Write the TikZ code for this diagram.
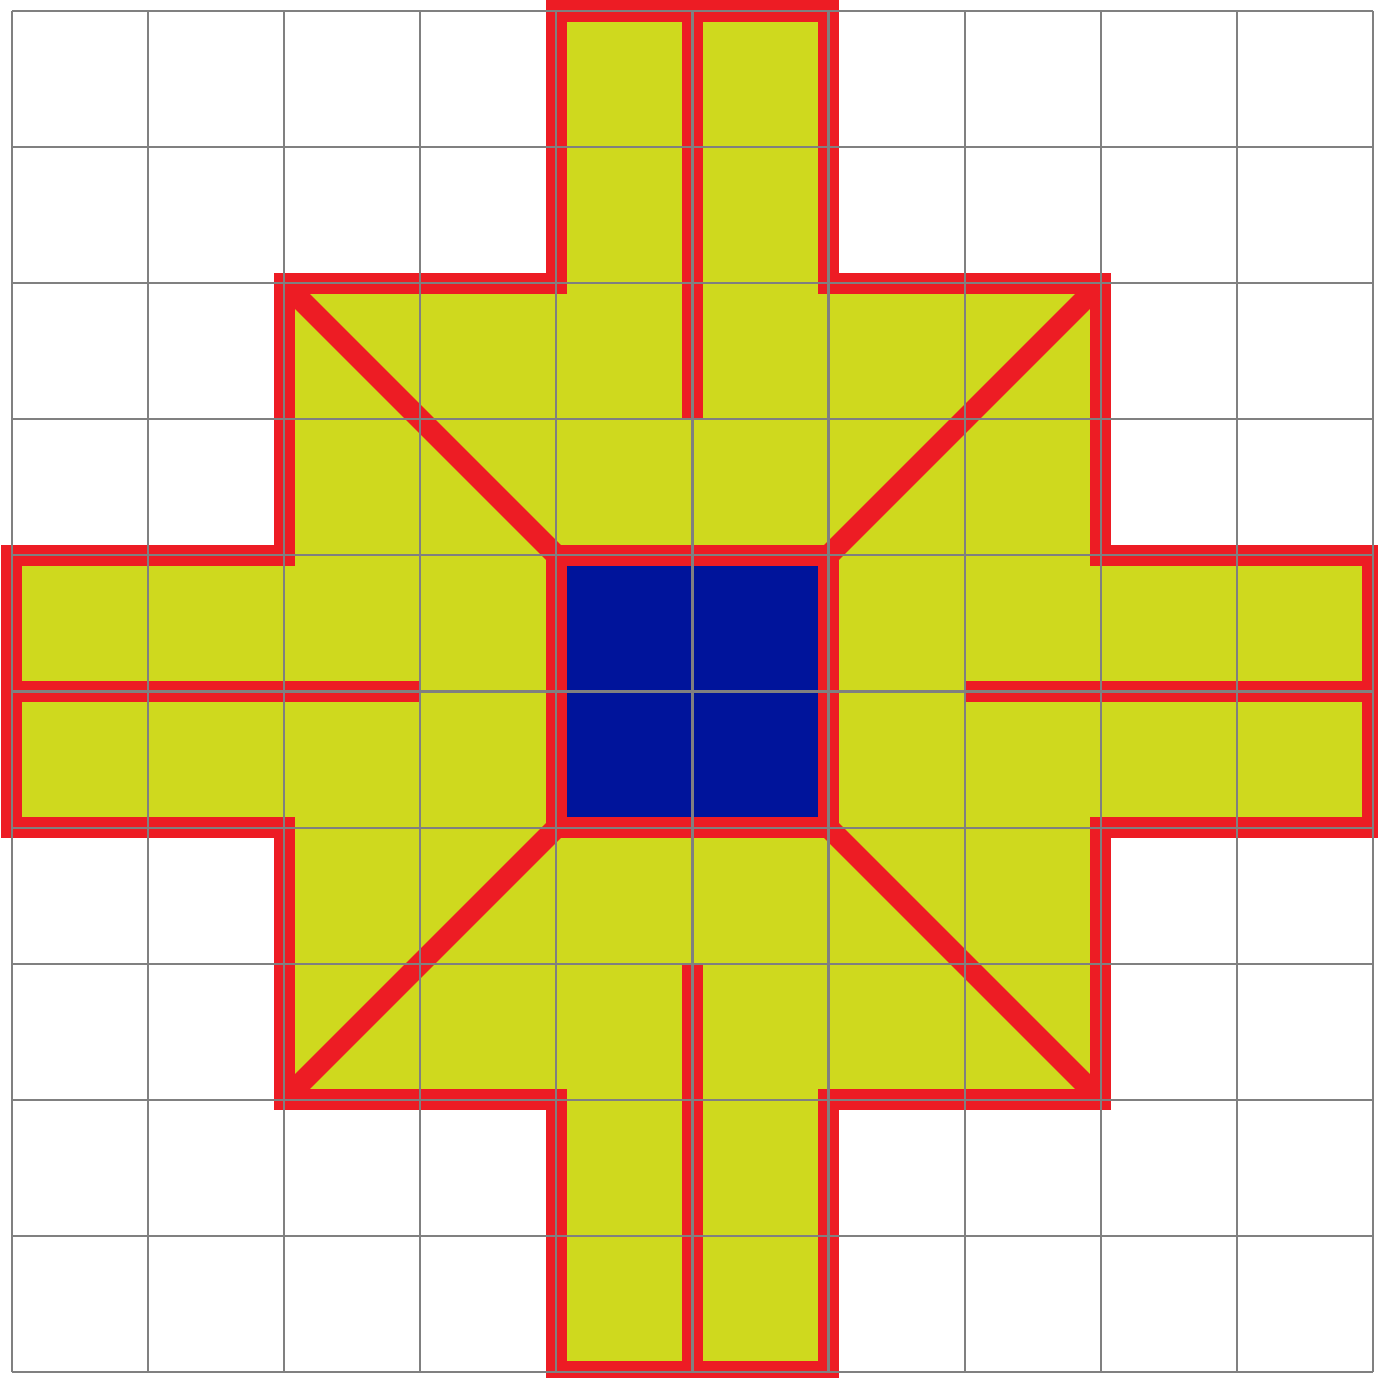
\documentclass[tikz,border=0pt]{standalone}
\usepackage{tikz}
\definecolor{padyellow}{RGB}{207,217,30}
\definecolor{edgered}{RGB}{237,28,36}
\definecolor{coreblue}{RGB}{0,20,155}

\begin{document}
\begin{tikzpicture}[
  wall/.style={draw=edgered, line width=4.4pt},
  core/.style={wall, fill=coreblue},
  pad/.style={wall, fill=padyellow},
  cellgrid/.style={draw=gray, line width=0.45pt}
]
\useasboundingbox (-0.088,-0.044) rectangle (10.037,10.081);
% outer cross
\filldraw[pad] (4,10) -- (6,10) -- (6,8) -- (8,8) -- (8,6) -- (10,6) -- (10,4) -- (8,4)
  -- (8,2) -- (6,2) -- (6,0) -- (4,0) -- (4,2) -- (2,2) -- (2,4) -- (0,4) -- (0,6)
  -- (2,6) -- (2,8) -- (4,8) -- cycle;
% split lines and diagonals
\foreach \x/\y/\u/\v in {5/10/5/7, 5/0/5/3, 0/5/3/5, 10/5/7/5,
                         2/8/4/6, 8/8/6/6, 2/2/4/4, 8/2/6/4}
  \draw[wall] (\x,\y) -- (\u,\v);
% centre block
\filldraw[core] (4,4) rectangle (6,6);
\draw[cellgrid] (0,0) grid (10,10);
\end{tikzpicture}
\end{document}
